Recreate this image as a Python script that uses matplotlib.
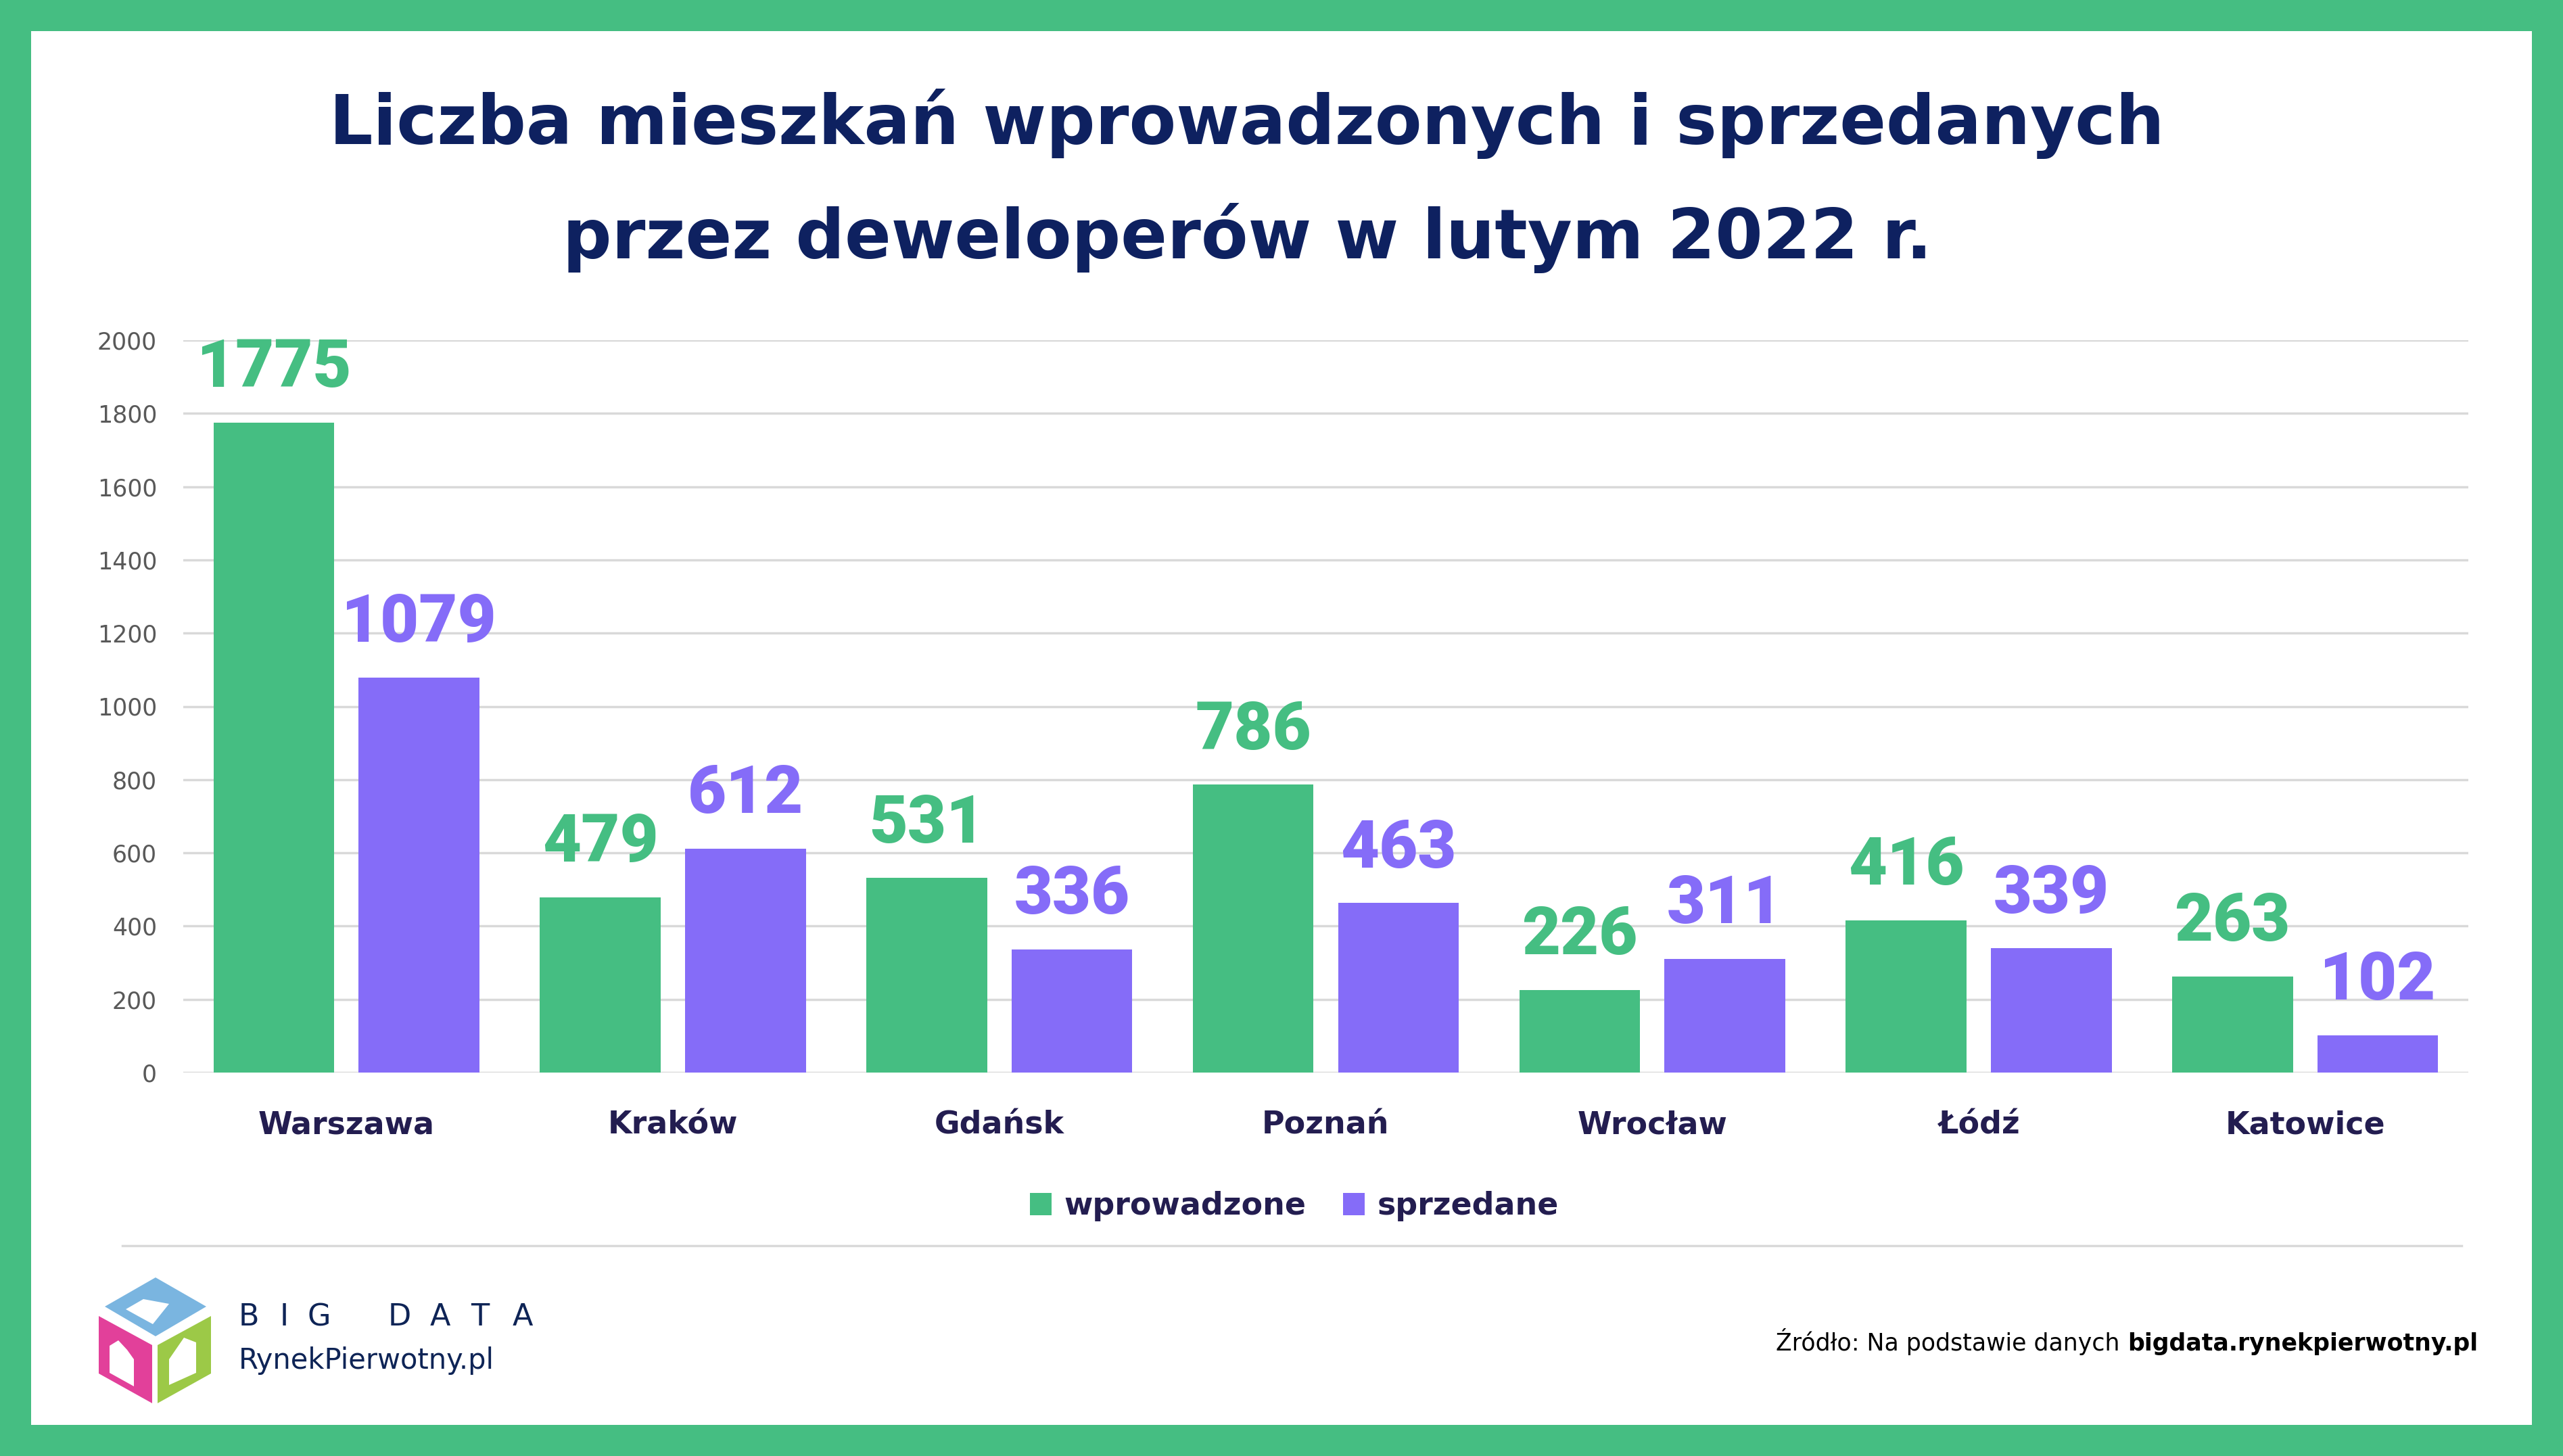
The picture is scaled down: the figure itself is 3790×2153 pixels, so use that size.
import matplotlib
matplotlib.use("Agg")
import matplotlib.pyplot as plt
import numpy as np
from matplotlib.patches import Rectangle, Polygon

# ---- data
cities = ['Warszawa', 'Kraków', 'Gdańsk', 'Poznań', 'Wrocław', 'Łódź', 'Katowice']
wprowadzone = [1775, 479, 531, 786, 226, 416, 263]
sprzedane = [1079, 612, 336, 463, 311, 339, 102]
yticks = [0, 200, 400, 600, 800, 1000, 1200, 1400, 1600, 1800, 2000]

GREEN = '#45be82'
PURPLE = '#856cf8'
NAVY = '#0e2160'
DARK = '#231d50'
GRID = '#d9d9d9'

W, H = 3790, 2153
fig = plt.figure(figsize=(W / 100, H / 100), dpi=100)
fig.patch.set_facecolor(GREEN)

# background / decorations drawn in pixel coords
bg = fig.add_axes([0, 0, 1, 1], zorder=0)
bg.set_xlim(0, W)
bg.set_ylim(H, 0)
bg.axis('off')
bg.add_patch(Rectangle((46, 46), W - 92, H - 92, facecolor='white', edgecolor='none'))
bg.plot([181, 3640], [1842, 1842], color=GRID, lw=2.5)

# logo cube
bg.add_patch(Polygon([(230, 1889), (305, 1932), (230, 1976), (155, 1932)], closed=True,
                     facecolor='#7ab5e0', edgecolor='none'))
bg.add_patch(Polygon([(146, 1946), (225, 1989), (225, 2075), (146, 2031)], closed=True,
                     facecolor='#e2409a', edgecolor='none'))
bg.add_patch(Polygon([(233, 1989), (312, 1946), (312, 2031), (233, 2075)], closed=True,
                     facecolor='#9cc947', edgecolor='none'))
# little white houses
bg.add_patch(Polygon([(162, 1990), (175, 1982), (188, 1996), (198, 2010), (198, 2050), (162, 2030)],
                     closed=True, facecolor='white', edgecolor='none'))
bg.add_patch(Polygon([(250, 2048), (250, 2010), (272, 1978), (290, 1985), (290, 2030)],
                     closed=True, facecolor='white', edgecolor='none'))
bg.add_patch(Polygon([(186, 1936), (212, 1921), (250, 1928), (226, 1958), (204, 1946)],
                     closed=True, facecolor='white', edgecolor='none'))

for ch, cx in zip('BIGDATA', [368, 420, 472, 591, 651, 710, 773]):
    bg.text(cx, 1948, ch, fontsize=32, color='#0e2456', ha='center', va='center')
bg.text(353, 2012, 'RynekPierwotny.pl', fontsize=30, color='#0e2456',
        ha='left', va='center')

bold_src = bg.text(3664, 1987, 'bigdata.rynekpierwotny.pl', fontsize=25,
                   fontweight='bold', color='black', ha='right', va='center')
bg.annotate('Źródło: Na podstawie danych ', xy=(0, 0), xycoords=bold_src,
            fontsize=25, color='black', ha='right', va='bottom')

# title
fig.text(0.4866, 1 - 183 / H, 'Liczba mieszkań wprowadzonych i sprzedanych',
         fontsize=73, fontweight='bold', color=NAVY, ha='center', va='center')
fig.text(0.4866, 1 - 352 / H, 'przez deweloperów w lutym 2022 r.',
         fontsize=73, fontweight='bold', color=NAVY, ha='center', va='center')

# ---- chart
ax = fig.add_axes([271 / W, 1 - 1586 / H, (3650 - 271) / W, (1586 - 503) / H], zorder=1)
ax.set_facecolor('none')
x = np.arange(len(cities))
bw = 0.37
off = 0.2225
b1 = ax.bar(x - off, wprowadzone, bw, color=GREEN, zorder=2, label='wprowadzone')
b2 = ax.bar(x + off, sprzedane, bw, color=PURPLE, zorder=2, label='sprzedane')

for xi, v in zip(x - off, wprowadzone):
    ax.annotate(str(v), xy=(xi, v), xytext=(0, 38), textcoords='offset points',
                ha='center', va='baseline', fontsize=71, fontweight='black',
                family='Roboto', color=GREEN, clip_on=False)
for xi, v in zip(x + off, sprzedane):
    ax.annotate(str(v), xy=(xi, v), xytext=(0, 38), textcoords='offset points',
                ha='center', va='baseline', fontsize=71, fontweight='black',
                family='Roboto', color=PURPLE, clip_on=False)

ax.set_xlim(-0.5, len(cities) - 0.5)
ax.set_ylim(0, 2000)
ax.set_yticks(yticks)
ax.set_yticklabels([str(t) for t in yticks], fontsize=25, color='#595959')
ax.set_xticks(x)
ax.set_xticklabels(cities, fontsize=33, fontweight='bold', color=DARK)
ax.tick_params(axis='y', length=0, pad=28)
ax.tick_params(axis='x', length=0, pad=40)
ax.grid(axis='y', color=GRID, lw=2.5, zorder=0)
for s in ax.spines.values():
    s.set_visible(False)

fig.legend(handles=[b1, b2], loc='center', bbox_to_anchor=(0.505, 1 - 1784 / H),
           ncol=2, frameon=False, prop={'weight': 'bold', 'size': 33},
           handlelength=0.7, handleheight=0.7, handletextpad=0.4, columnspacing=1.2,
           labelcolor=DARK)

fig.savefig('out.png', dpi=100, facecolor=fig.get_facecolor())
